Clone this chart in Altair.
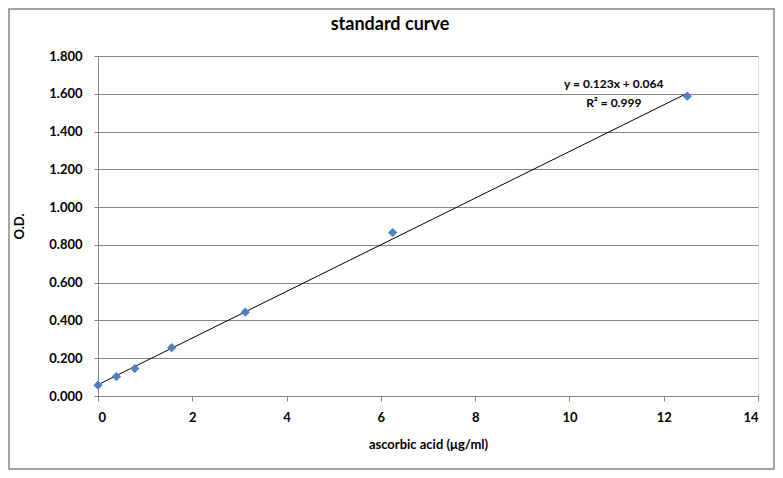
import altair as alt
import pandas as pd

conc = [0.0, 0.39, 0.78, 1.5625, 3.125, 6.25, 12.5]
od = [0.057, 0.103, 0.145, 0.256, 0.444, 0.865, 1.587]

y_ticks = [0.0, 0.2, 0.4, 0.6, 0.8, 1.0, 1.2, 1.4, 1.6, 1.8]
x_ticks = [0, 2, 4, 6, 8, 10, 12, 14]

eq_text = ["y = 0.123x + 0.064", "R² = 0.999"]
eq_x = [10.94, 10.94]
eq_y = [1.654, 1.553]

chart_title = "standard curve"

df = pd.DataFrame({"conc": conc, "od": od})
ann = pd.DataFrame({"t": eq_text, "x": eq_x, "y": eq_y})
ttl = pd.DataFrame({"t": [chart_title]})

FONT = "Lato"
GRAY = "#868686"

xscale = alt.Scale(domain=[0, 14], nice=False, zero=False)
yscale = alt.Scale(domain=[0, 1.8], nice=False)

xaxis = alt.Axis(values=x_ticks, title="ascorbic acid (μg/ml)", grid=False, labelOverlap=False,
                 domainColor=GRAY, tickColor=GRAY, tickSize=5, labelPadding=10,
                 labelFont=FONT, labelFontSize=13, labelFontWeight="bold", labelColor="black",
                 titleFont=FONT, titleFontSize=13, titleFontWeight="bold", titleColor="black",
                 titlePadding=14)
yaxis = alt.Axis(values=y_ticks, format=".3f", title="O.D.", grid=True, labelOverlap=False,
                 gridColor=GRAY, domainColor=GRAY, tickColor=GRAY, tickSize=4, labelPadding=12,
                 labelFont=FONT, labelFontSize=13, labelFontWeight="bold", labelColor="black",
                 titleFont=FONT, titleFontSize=13, titleFontWeight="bold", titleColor="black",
                 titlePadding=22)

base = alt.Chart(df)

points = base.mark_point(shape="diamond", filled=True, size=85, color="#4f81bd", opacity=1).encode(
    x=alt.X("conc:Q", scale=xscale, axis=xaxis),
    y=alt.Y("od:Q", scale=yscale, axis=yaxis),
)

trend = base.transform_regression("conc", "od", method="linear", extent=[0, 12.5]).mark_line(
    color="black", strokeWidth=1
).encode(x=alt.X("conc:Q", scale=xscale, axis=xaxis), y=alt.Y("od:Q", scale=yscale, axis=yaxis))

labels = alt.Chart(ann).mark_text(font=FONT, fontSize=12, fontWeight="bold", color="black").encode(
    x=alt.X("x:Q", scale=xscale, axis=xaxis), y=alt.Y("y:Q", scale=yscale, axis=yaxis), text="t:N"
)

title_mark = alt.Chart(ttl).mark_text(font=FONT, fontSize=18, fontWeight="bold", color="black",
                                      baseline="middle", align="center").encode(
    x=alt.value(292), y=alt.value(-31), text="t:N"
)

frame = alt.Chart(ttl).mark_rect(fill=None, stroke=GRAY, strokeWidth=1.5).encode(
    x=alt.value(-89), x2=alt.value(676), y=alt.value(-47), y2=alt.value(413)
)

chart = alt.layer(frame, trend, points, labels, title_mark).properties(
    width=660, height=340,
    autosize=alt.AutoSizeParams(type="none"),
    padding={"left": 90, "top": 48, "right": 17, "bottom": 74},
).configure_view(stroke=None).configure(background="white")

chart.save("out.html", embed_options={"renderer": "svg", "actions": False})
